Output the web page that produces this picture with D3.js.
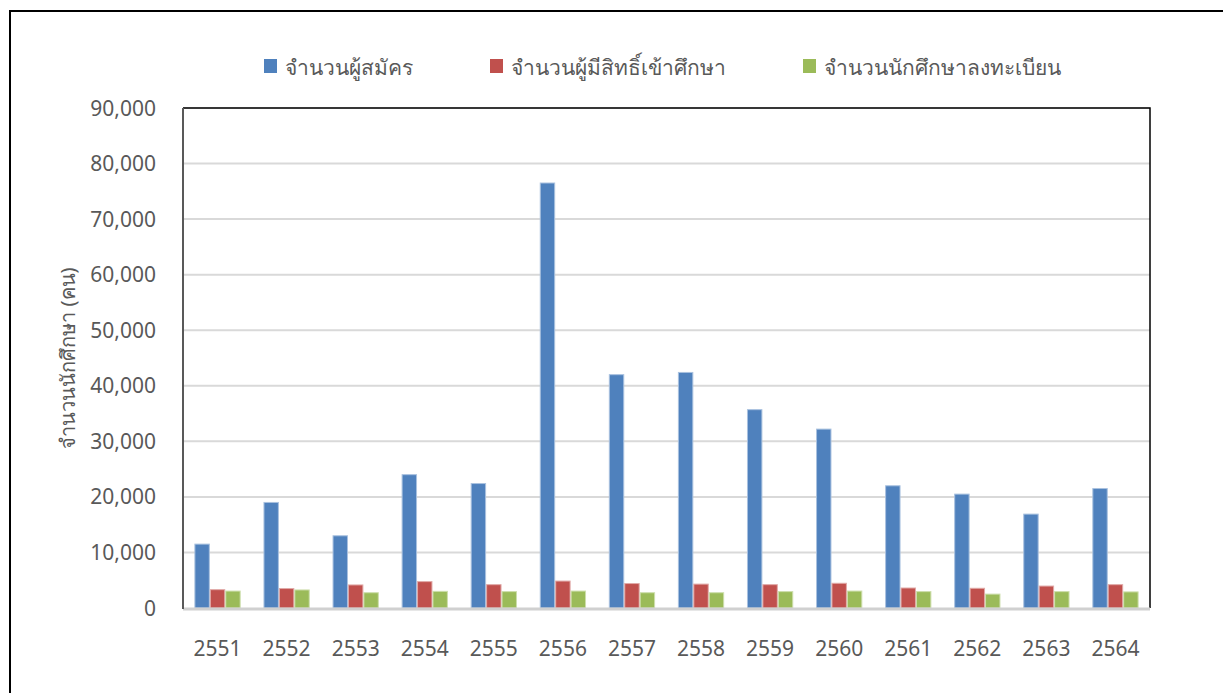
<!DOCTYPE html>
<html>
<head>
<meta charset="utf-8">
<script src="https://cdn.jsdelivr.net/npm/d3@7"></script>
<style>
  body { margin: 0; background: #fff; }
  text { font-family: "Noto Sans", Tahoma, "DejaVu Sans", sans-serif; fill: #595959; }
</style>
</head>
<body>
<div id="chart"></div>
<script>
// chart data
let years = ["2551", "2552", "2553", "2554", "2555", "2556", "2557",
             "2558", "2559", "2560", "2561", "2562", "2563", "2564"];
let seriesNames = ["จำนวนผู้สมัคร", "จำนวนผู้มีสิทธิ์เข้าศึกษา", "จำนวนนักศึกษาลงทะเบียน"];
let applicants = [11500, 19000, 13000, 24000, 22400, 76500, 42000,
                  42400, 35700, 32200, 22000, 20500, 16900, 21500];
let admitted = [3300, 3500, 4150, 4750, 4200, 4850, 4400,
                4300, 4200, 4450, 3600, 3550, 3950, 4200];
let enrolled = [3050, 3250, 2750, 3000, 2950, 3050, 2750,
                2750, 2950, 3050, 2950, 2500, 2950, 2900];
let yTicks = [0, 10000, 20000, 30000, 40000, 50000, 60000, 70000, 80000, 90000];
let yTitle = "จำนวนนักศึกษา (คน)";

let colors = ["#4f81bd", "#c0504d", "#9bbb59"];
let strokes = ["#a9c1df", "#e0a9a7", "#cddeac"];

let W = 1223, H = 693;
let margin = {top: 108, right: 73, bottom: 85, left: 183};
let width = W - margin.left - margin.right,
    height = H - margin.top - margin.bottom;

let svg = d3.select("#chart").append("svg")
    .attr("width", W)
    .attr("height", H);

// outer frame
svg.append("rect")
    .attr("x", 10).attr("y", 11)
    .attr("width", W).attr("height", H)
    .attr("fill", "none").attr("stroke", "#000").attr("stroke-width", 2);

let g = svg.append("g")
    .attr("transform", "translate(" + margin.left + "," + margin.top + ")");

let x0 = d3.scaleBand().domain(years).range([0, width])
    .paddingInner(0.33).paddingOuter(0.165);
let x1 = d3.scaleBand().domain(d3.range(3)).range([0, x0.bandwidth()]);
let y = d3.scaleLinear().domain([0, 90000]).range([height, 0]);

// grid
g.selectAll(".grid").data(yTicks.slice(1))
  .enter().append("line")
    .attr("class", "grid")
    .attr("x1", 0).attr("x2", width)
    .attr("y1", d => y(d)).attr("y2", d => y(d))
    .attr("stroke", "#d9d9d9").attr("stroke-width", 2);

// plot border top and right
g.append("path")
    .attr("d", "M0,0H" + width + "V" + height)
    .attr("fill", "none").attr("stroke", "#000").attr("stroke-width", 1.5);

// bars
let data = [applicants, admitted, enrolled];
let groups = g.selectAll(".year").data(years)
  .enter().append("g")
    .attr("class", "year")
    .attr("transform", d => "translate(" + x0(d) + ",0)");

groups.selectAll("rect")
    .data((d, i) => data.map((s, k) => ({k: k, v: s[i]})))
  .enter().append("rect")
    .attr("x", d => x1(d.k) + 0.5)
    .attr("width", x1.bandwidth() - 1)
    .attr("y", d => y(d.v))
    .attr("height", d => height - y(d.v))
    .attr("fill", d => colors[d.k])
    .attr("stroke", d => strokes[d.k])
    .attr("stroke-width", 1);

// bottom axis line
g.append("line")
    .attr("x1", 0).attr("x2", width)
    .attr("y1", height + 1).attr("y2", height + 1)
    .attr("stroke", "#d0d0d0").attr("stroke-width", 3);

// left axis line
g.append("line")
    .attr("x1", 0).attr("x2", 0)
    .attr("y1", 0).attr("y2", height + 1)
    .attr("stroke", "#595959").attr("stroke-width", 2);

// y tick labels
let fmt = d3.format(",");
g.selectAll(".ytick").data(yTicks)
  .enter().append("text")
    .attr("class", "ytick")
    .attr("x", -27)
    .attr("y", d => y(d))
    .attr("dy", "0.36em")
    .attr("text-anchor", "end")
    .style("font-size", "21px")
    .text(d => fmt(d));

// x tick labels
g.selectAll(".xtick").data(years)
  .enter().append("text")
    .attr("class", "xtick")
    .attr("x", d => x0(d) + x0.bandwidth() / 2)
    .attr("y", height + 48)
    .attr("text-anchor", "middle")
    .style("font-size", "21px")
    .text(d => d);

// y title
svg.append("text")
    .attr("transform", "translate(75," + 358 + ") rotate(-90)")
    .attr("text-anchor", "middle")
    .style("font-size", "20px")
    .text(yTitle);

// legend
let legendX = [264, 490, 803];
let legend = svg.selectAll(".legend").data(seriesNames)
  .enter().append("g")
    .attr("class", "legend")
    .attr("transform", (d, i) => "translate(" + legendX[i] + ",59)");

legend.append("rect")
    .attr("width", 13).attr("height", 14)
    .attr("fill", (d, i) => colors[i]);

legend.append("text")
    .attr("x", 21).attr("y", 16)
    .style("font-size", "21px")
    .text(d => d);
</script>
</body>
</html>
